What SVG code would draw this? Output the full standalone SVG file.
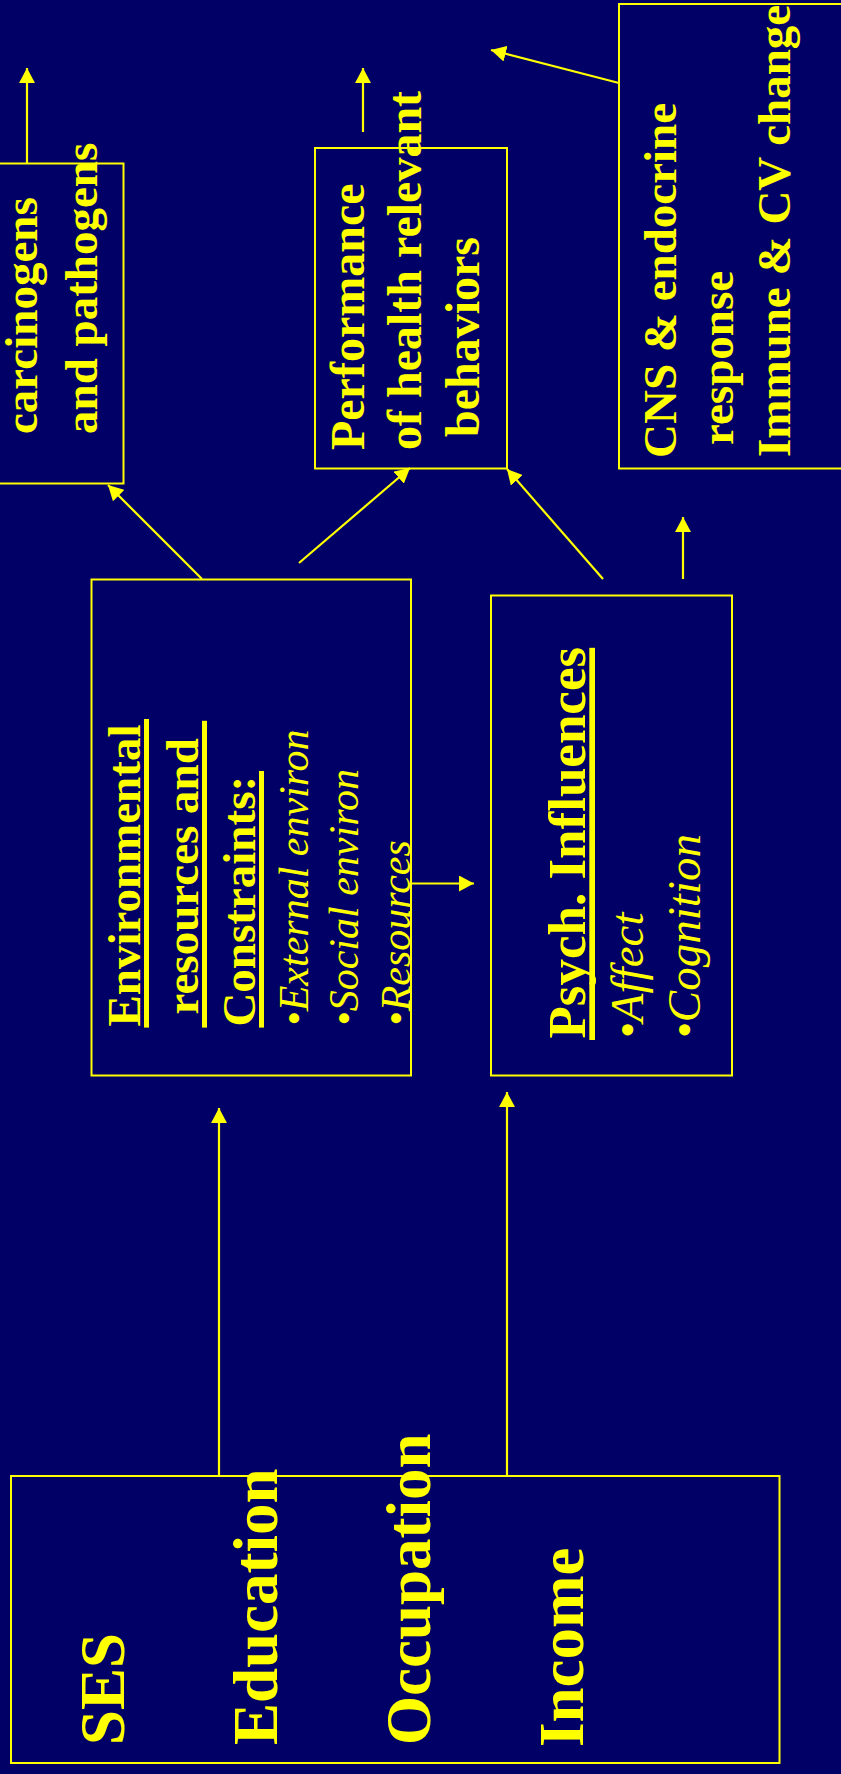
<svg xmlns="http://www.w3.org/2000/svg" width="841" height="1774" viewBox="0 0 841 1774">
<defs>
<style>
.box{fill:none;stroke:#FFFF00;stroke-width:2}
.ln{stroke:#FFFF00;stroke-width:2.2;fill:none;marker-end:url(#ah)}
.t{font-family:"Liberation Serif","Times New Roman",serif;fill:#FFFF00;font-weight:bold}
.i{font-family:"Liberation Serif","Times New Roman",serif;fill:#FFFF00;font-style:italic}
.ul{fill:#FFFF00}
</style>
<marker id="ah" markerUnits="userSpaceOnUse" markerWidth="16" markerHeight="16" refX="15" refY="8" orient="auto">
<path d="M0,0 L15,8 L0,16 z" fill="#FFFF00"/>
</marker>
</defs>
<rect x="0" y="0" width="841" height="1774" fill="#000066"/>

<g id="connectors">
<line class="ln" x1="27" y1="163" x2="27" y2="68"/>
<line class="ln" x1="363" y1="132" x2="363" y2="68"/>
<line class="ln" x1="619" y1="83" x2="491" y2="50"/>
<line class="ln" x1="202" y1="579" x2="108" y2="485"/>
<line class="ln" x1="299" y1="563" x2="410" y2="468"/>
<line class="ln" x1="603" y1="579" x2="507" y2="469"/>
<line class="ln" x1="683" y1="579" x2="683" y2="517"/>
<line class="ln" x1="412" y1="883.5" x2="474" y2="883.5"/>
<line class="ln" x1="219" y1="1476" x2="219" y2="1108"/>
<line class="ln" x1="507" y1="1476" x2="507" y2="1092"/>
</g>

<g id="carcinogens">
<rect class="box" x="-10" y="163.5" width="133.5" height="320"/>
<text class="t" font-size="47" transform="translate(37,434) rotate(-90)">carcinogens</text>
<text class="t" font-size="47" transform="translate(97,434) rotate(-90)">and pathogens</text>
</g>

<g id="performance">
<rect class="box" x="315" y="148" width="192" height="320.5"/>
<text class="t" font-size="48" transform="translate(364,450) rotate(-90)">Performance</text>
<text class="t" font-size="48" transform="translate(421,450) rotate(-90)">of health relevant</text>
<text class="t" font-size="48" transform="translate(479,437) rotate(-90)">behaviors</text>
</g>

<g id="cns">
<rect class="box" x="619" y="4" width="250" height="464.5"/>
<text class="t" font-size="47" transform="translate(676,458) rotate(-90)">CNS &amp; endocrine</text>
<text class="t" font-size="47" transform="translate(733,445) rotate(-90)">response</text>
<text class="t" font-size="47" transform="translate(790,457) rotate(-90)">Immune &amp; CV change</text>
</g>

<g id="environmental">
<rect class="box" x="91.5" y="579.5" width="319.5" height="496"/>
<text class="t" font-size="47" transform="translate(140,1026.6) rotate(-90)">Environmental</text>
<rect class="ul" x="144" y="719" width="5" height="308.6"/>
<text class="t" font-size="47" transform="translate(198,1014.5) rotate(-90)">resources and</text>
<rect class="ul" x="202" y="720.8" width="5" height="306.8"/>
<text class="t" font-size="47" transform="translate(255,1026.6) rotate(-90)">Constraints:</text>
<rect class="ul" x="259" y="771" width="5" height="256.6"/>
<text class="i" font-size="42" transform="translate(308,1026) rotate(-90)">•External environ</text>
<text class="i" font-size="42" transform="translate(358,1026) rotate(-90)">•Social environ</text>
<text class="i" font-size="42" transform="translate(410,1026) rotate(-90)">•Resources</text>
</g>

<g id="psych">
<rect class="box" x="491" y="595.5" width="241" height="480"/>
<text class="t" font-size="53" transform="translate(585,1038.6) rotate(-90)">Psych. Influences</text>
<rect class="ul" x="589.3" y="647.8" width="5.7" height="392.2"/>
<text class="i" font-size="47" transform="translate(643,1038.6) rotate(-90)">•Affect</text>
<text class="i" font-size="47" transform="translate(700,1038.6) rotate(-90)">•Cognition</text>
</g>

<g id="ses">
<rect class="box" x="11" y="1476" width="768.5" height="287"/>
<text class="t" font-size="63" transform="translate(124,1745) rotate(-90)">SES</text>
<text class="t" font-size="63" transform="translate(277,1745) rotate(-90)">Education</text>
<text class="t" font-size="63" transform="translate(430,1745) rotate(-90)">Occupation</text>
<text class="t" font-size="63" transform="translate(583,1747) rotate(-90)">Income</text>
</g>
</svg>
